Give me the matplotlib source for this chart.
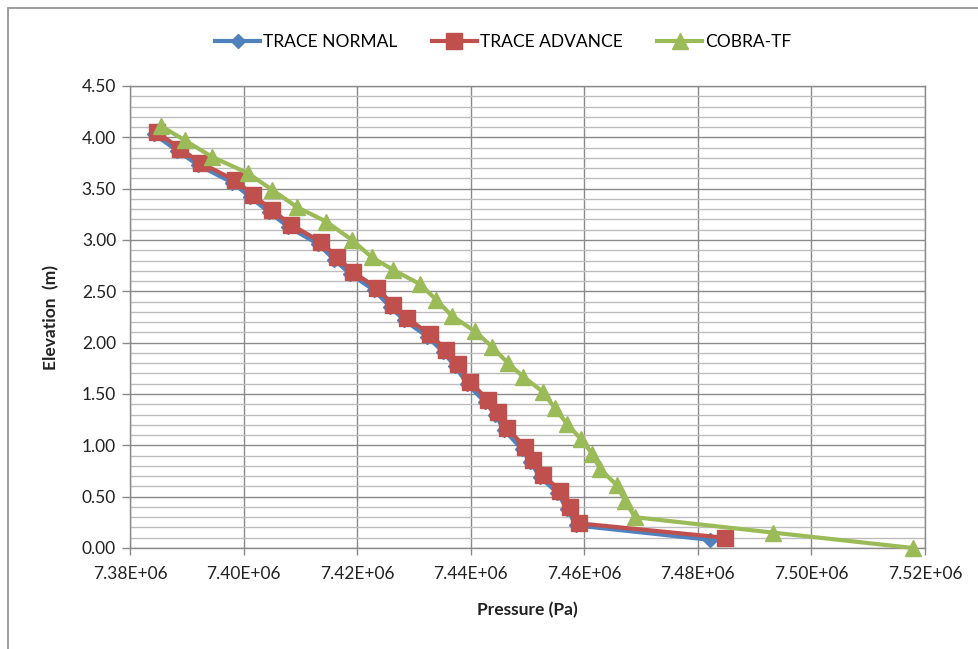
import matplotlib
matplotlib.use("Agg")
import matplotlib.pyplot as plt
from matplotlib.ticker import MultipleLocator, FuncFormatter
from matplotlib.patches import Rectangle

plt.rcParams['font.family'] = ['Lato', 'DejaVu Sans']

# TRACE NORMAL
normal_p = [7.38425, 7.38831, 7.39200, 7.39799, 7.40116, 7.40451, 7.40785, 7.41314, 7.41595,
            7.41877, 7.42300, 7.42581, 7.42828, 7.43233, 7.43515, 7.43726, 7.43937, 7.44254,
            7.44430, 7.44589, 7.44906, 7.45047, 7.45223, 7.45522, 7.45698, 7.45857, 7.48214]
normal_z = [4.03, 3.87, 3.73, 3.56, 3.42, 3.27, 3.13, 2.96, 2.81, 2.67, 2.51, 2.35, 2.22, 2.06,
            1.91, 1.77, 1.60, 1.42, 1.30, 1.15, 0.96, 0.84, 0.69, 0.54, 0.38, 0.22, 0.08]

# TRACE ADVANCE
advance_p = [7.38475, 7.38881, 7.39250, 7.39849, 7.40166, 7.40501, 7.40835, 7.41364, 7.41645,
             7.41927, 7.42350, 7.42631, 7.42878, 7.43283, 7.43565, 7.43776, 7.43987, 7.44304,
             7.44480, 7.44639, 7.44956, 7.45097, 7.45273, 7.45572, 7.45748, 7.45907, 7.48478]
advance_z = [4.05, 3.89, 3.75, 3.58, 3.44, 3.29, 3.15, 2.98, 2.83, 2.69, 2.53, 2.37, 2.24, 2.08,
             1.93, 1.79, 1.62, 1.44, 1.32, 1.17, 0.98, 0.86, 0.71, 0.56, 0.40, 0.24, 0.10]

# COBRA-TF
cobra_p = [7.38546, 7.38969, 7.39444, 7.40078, 7.40501, 7.40941, 7.41452, 7.41910, 7.42262,
           7.42631, 7.43107, 7.43389, 7.43670, 7.44075, 7.44375, 7.44657, 7.44921, 7.45273,
           7.45484, 7.45696, 7.45942, 7.46136, 7.46277, 7.46576, 7.46717, 7.46893, 7.49323, 7.51788]
cobra_z = [4.11, 3.97, 3.81, 3.65, 3.49, 3.32, 3.18, 3.00, 2.83, 2.71, 2.57, 2.42, 2.26, 2.11,
           1.96, 1.80, 1.67, 1.52, 1.36, 1.21, 1.06, 0.92, 0.77, 0.61, 0.46, 0.30, 0.15, 0.00]

series_labels = ['TRACE NORMAL', 'TRACE ADVANCE', 'COBRA-TF']

fig = plt.figure(figsize=(9.79, 6.49), dpi=100)
ax = fig.add_axes([130/979, 1-548/649, 795/979, 462/649])

# outer chart border
fig.patches.append(Rectangle((8/979, -0.01), 1.0, 1 - 8/649 + 0.01, transform=fig.transFigure,
                             fill=False, edgecolor='#8c8c8c', linewidth=1.2))

ax.plot([p*1e6 for p in normal_p], normal_z, color='#4F81BD', lw=3.0, marker='D',
        markersize=7, label=series_labels[0], clip_on=False, zorder=3)
ax.plot([p*1e6 for p in advance_p], advance_z, color='#C0504D', lw=3.0, marker='s',
        markersize=11.5, label=series_labels[1], clip_on=False, zorder=4)
ax.plot([p*1e6 for p in cobra_p], cobra_z, color='#9BBB59', lw=3.0, marker='^',
        markersize=12, label=series_labels[2], clip_on=False, zorder=5)

ax.set_xlim(7.38e6, 7.52e6)
ax.set_ylim(0, 4.5)
ax.xaxis.set_major_locator(MultipleLocator(0.02e6))
ax.yaxis.set_major_locator(MultipleLocator(0.5))
ax.yaxis.set_minor_locator(MultipleLocator(0.1))
ax.xaxis.set_major_formatter(FuncFormatter(lambda v, pos: f"{v:.2E}"))
ax.yaxis.set_major_formatter(FuncFormatter(lambda v, pos: f"{v:.2f}"))

ax.grid(which='major', axis='both', color='#8a8a8a', linewidth=1.0)
ax.grid(which='minor', axis='y', color='#bdbdbd', linewidth=1.0)
ax.set_axisbelow(True)

for s in ['top', 'right', 'left', 'bottom']:
    ax.spines[s].set_color('#8a8a8a')
    ax.spines[s].set_linewidth(1.0)

ax.tick_params(axis='both', which='major', labelsize=12.5, colors='#8a8a8a',
               labelcolor='#222222', length=6, width=1.0, direction='out', pad=4)
ax.tick_params(axis='y', which='minor', length=0)
ax.tick_params(axis='x', which='major', length=5, pad=8)

ax.set_xlabel('Pressure (Pa)', fontsize=12.5, fontweight='bold', labelpad=14, color='#222222')
ax.set_ylabel('Elevation  (m)', fontsize=12.5, fontweight='bold', labelpad=16, color='#222222')

fig.legend(loc='center', bbox_to_anchor=(503/979, 1-42/649), ncol=3, frameon=False,
           fontsize=12.5, handlelength=2.6, columnspacing=2.0, handletextpad=0.15)

fig.savefig('out.png', dpi=100)
